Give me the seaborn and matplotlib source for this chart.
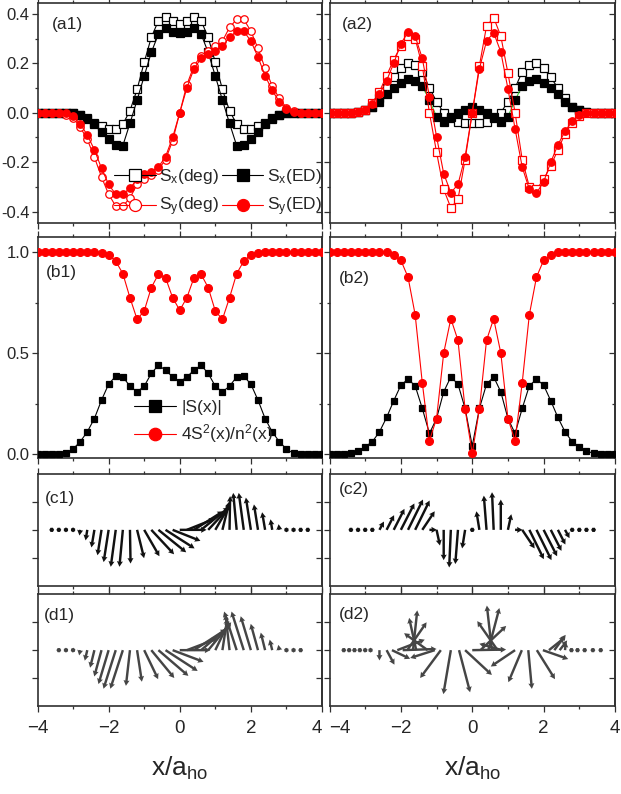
import matplotlib
matplotlib.use("Agg")
import matplotlib.pyplot as plt
import seaborn as sns
import numpy as np

sns.set_theme(style="ticks")
plt.rcParams["font.family"] = ["Liberation Sans", "DejaVu Sans"]
plt.rcParams["mathtext.fontset"] = "custom"
plt.rcParams["mathtext.rm"] = "Liberation Sans"
plt.rcParams["mathtext.it"] = "Liberation Sans:italic"

# ---- data ---------------------------------------------------------------
x_pts = [-4.0, -3.8, -3.6, -3.4, -3.2, -3.0, -2.8, -2.6, -2.4, -2.2, -2.0,
         -1.8, -1.6, -1.4, -1.2, -1.0, -0.8, -0.6, -0.4, -0.2, 0.0,
         0.2, 0.4, 0.6, 0.8, 1.0, 1.2, 1.4, 1.6, 1.8, 2.0,
         2.2, 2.4, 2.6, 2.8, 3.0, 3.2, 3.4, 3.6, 3.8, 4.0]

# (a1)
a1_sx_deg = [0, 0, 0, 0, 0, 0, -0.01, -0.023, -0.04, -0.054, -0.067, -0.067, -0.046, 0.008, 0.094,
             0.204, 0.305, 0.372, 0.389, 0.372, 0.359, 0.372, 0.389, 0.372, 0.305, 0.204, 0.094,
             0.008, -0.046, -0.067, -0.067, -0.054, -0.04, -0.023, -0.01, 0, 0, 0, 0, 0, 0]
a1_sx_ed = [0, 0, 0, 0, 0, -0.003, -0.011, -0.027, -0.046, -0.077, -0.108, -0.13, -0.133, -0.043,
            0.051, 0.148, 0.244, 0.318, 0.341, 0.328, 0.324, 0.328, 0.341, 0.318, 0.244, 0.148,
            0.051, -0.043, -0.133, -0.13, -0.108, -0.077, -0.046, -0.027, -0.011, -0.003, 0, 0, 0, 0, 0]
a1_sy_deg = [0, 0, 0, 0, -0.008, -0.02, -0.058, -0.108, -0.18, -0.26, -0.33, -0.378, -0.378, -0.345,
             -0.29, -0.27, -0.25, -0.23, -0.19, -0.113, 0, 0.113, 0.19, 0.23, 0.25, 0.27, 0.29,
             0.345, 0.378, 0.378, 0.33, 0.26, 0.18, 0.108, 0.058, 0.02, 0.008, 0, 0, 0, 0]
a1_sy_ed = [0, 0, 0, 0, -0.003, -0.015, -0.045, -0.09, -0.15, -0.225, -0.29, -0.33, -0.33, -0.305,
            -0.27, -0.248, -0.238, -0.22, -0.178, -0.1, 0, 0.1, 0.178, 0.22, 0.238, 0.248, 0.27,
            0.305, 0.33, 0.33, 0.29, 0.225, 0.15, 0.09, 0.045, 0.015, 0.003, 0, 0, 0, 0]

# (a2)
a2_sx_deg = [0, 0, 0, 0, 0.003, 0.01, 0.025, 0.06, 0.1, 0.143, 0.18, 0.2, 0.193, 0.166, 0.1, 0.045,
             0.0, -0.022, -0.036, -0.04, -0.04, -0.04, -0.036, -0.022, 0.0, 0.045, 0.1, 0.166,
             0.193, 0.2, 0.18, 0.143, 0.1, 0.06, 0.025, 0.01, 0.003, 0, 0, 0, 0]
a2_sx_ed = [0, 0, 0, 0, 0.003, 0.01, 0.025, 0.045, 0.077, 0.1, 0.122, 0.135, 0.13, 0.108, 0.051,
            -0.016, -0.036, -0.019, -0.003, 0.013, 0.022, 0.013, -0.003, -0.019, -0.036, -0.016,
            0.051, 0.108, 0.13, 0.135, 0.122, 0.1, 0.077, 0.045, 0.025, 0.01, 0.003, 0, 0, 0, 0]
a2_sy_deg = [0, 0, 0, 0, 0.003, 0.012, 0.04, 0.085, 0.15, 0.215, 0.27, 0.31, 0.3, 0.19, 0.0, -0.16,
             -0.31, -0.385, -0.35, -0.19, 0, 0.19, 0.35, 0.385, 0.31, 0.16, 0.0, -0.19, -0.3,
             -0.31, -0.27, -0.215, -0.15, -0.085, -0.04, -0.012, -0.003, 0, 0, 0, 0]
a2_sy_ed = [0, 0, 0, 0, 0.003, 0.01, 0.035, 0.075, 0.13, 0.2, 0.28, 0.325, 0.31, 0.22, 0.065,
            -0.097, -0.246, -0.324, -0.29, -0.178, 0, 0.178, 0.29, 0.324, 0.246, 0.097, -0.065,
            -0.22, -0.31, -0.325, -0.28, -0.2, -0.13, -0.075, -0.035, -0.01, -0.003, 0, 0, 0, 0]

# (b1), (b2)
b1_abs = [0, 0, 0, 0, 0.003, 0.025, 0.061, 0.11, 0.176, 0.267, 0.346, 0.386, 0.382, 0.336, 0.308,
          0.336, 0.399, 0.44, 0.415, 0.382, 0.357, 0.382, 0.415, 0.44, 0.399, 0.336, 0.308, 0.336,
          0.382, 0.386, 0.346, 0.267, 0.176, 0.11, 0.061, 0.025, 0.003, 0, 0, 0, 0]
b1_ratio = [1, 1, 1, 1, 1, 1, 1, 1, 1, 0.997, 0.987, 0.955, 0.893, 0.774, 0.667, 0.708, 0.824,
            0.89, 0.873, 0.774, 0.712, 0.774, 0.873, 0.89, 0.824, 0.708, 0.667, 0.774, 0.893,
            0.955, 0.987, 0.997, 1, 1, 1, 1, 1, 1, 1, 1, 1]
b2_abs = [0, 0, 0, 0.003, 0.016, 0.036, 0.061, 0.11, 0.181, 0.264, 0.341, 0.371, 0.338, 0.226,
          0.102, 0.176, 0.308, 0.382, 0.346, 0.226, 0.04, 0.226, 0.346, 0.382, 0.308, 0.176,
          0.102, 0.226, 0.338, 0.371, 0.341, 0.264, 0.181, 0.11, 0.061, 0.036, 0.016, 0.003, 0, 0, 0]
b2_ratio = [1, 1, 1, 1, 1, 1, 1, 1, 1, 0.983, 0.959, 0.876, 0.69, 0.353, 0.066, 0.176, 0.5, 0.67,
            0.563, 0.222, 0.003, 0.222, 0.563, 0.67, 0.5, 0.176, 0.066, 0.353, 0.69, 0.876,
            0.959, 0.983, 1, 1, 1, 1, 1, 1, 1, 1, 1]

# (d2) vectors (tail position and spin components)
d2_x = [-3.6, -3.45, -3.3, -3.15, -3.0, -2.85, -2.6, -2.4, -2.25, -2.1, -1.95, -1.82, -1.66,
        -1.57, -1.25, -1.05, -0.88, -0.6, -0.37, -0.2, 0.0, 0.23, 0.45, 0.55, 0.71, 0.83, 1.2,
        1.39, 1.57, 1.81, 1.98, 2.15, 2.3, 2.45, 2.6, 2.78, 2.95, 3.15, 3.38, 3.6]
d2_sx = [0, 0, 0, 0, 0.01, 0, 0, 0.083, 0.192, 0.29, 0.358, 0.204, 0.045, -0.075, -0.249, -0.26,
         -0.219, -0.079, 0.117, 0.283, 0.358, 0.272, 0.117, -0.053, -0.215, -0.238, -0.257,
         -0.143, 0.038, 0.192, 0.268, 0.17, 0.12, 0.079, 0.008, 0.01, 0, 0, 0, 0]
d2_sy = [0, 0, 0, 0, -0.007, -0.036, -0.088, -0.124, -0.074, 0.09, 0.01, 0.238, 0.34, 0.276,
         0.145, -0.067, -0.238, -0.376, -0.36, -0.212, 0.005, 0.207, 0.36, 0.381, 0.248, 0.055,
         -0.14, -0.274, -0.331, -0.248, -0.076, 0.11, 0.131, 0.083, 0.071, 0.012, 0, 0, 0, 0]

# ---- layout (pixel boxes) -------------------------------------------------
W, H = 621, 794
rows = {"a": (2.5, 222.7), "b": (236.7, 458.3), "c": (474.0, 585.7), "d": (594.3, 706.0)}
cols = [(37.5, 322.0), (329.5, 615.0)]

fig = plt.figure(figsize=(W / 100, H / 100), dpi=100)
axes = {}
for r, (top, bot) in rows.items():
    for i, (lft, rgt) in enumerate(cols):
        axes[r + str(i + 1)] = fig.add_axes([lft / W, 1 - bot / H, (rgt - lft) / W, (bot - top) / H])

FRAME = "#303030"


def style(ax, ymaj, ymin, ylabels, xlabels):
    ax.set_xlim(-4, 4)
    ax.set_xticks([-4, -2, 0, 2, 4])
    ax.set_xticks([-3, -1, 1, 3], minor=True)
    ax.set_yticks(ymaj)
    ax.set_yticks(ymin, minor=True)
    for sp in ax.spines.values():
        sp.set_visible(True)
        sp.set_color(FRAME)
        sp.set_linewidth(1.2)
    ax.tick_params(which="both", direction="out", color=FRAME, width=0.9, top=True,
                   labelleft=ylabels, labelbottom=xlabels, labelsize=12, pad=1.5)
    ax.tick_params(which="major", length=4)
    ax.tick_params(which="minor", length=2.5)
    ax.tick_params(axis="x", labelsize=13.5, pad=6)
    if ylabels:
        ax.set_yticklabels([f"{v:.1f}" for v in ymaj])
    sec = ax.secondary_yaxis("right")
    sec.set_yticks(ymaj)
    sec.set_yticks(ymin, minor=True)
    sec.tick_params(which="both", direction="in", color=FRAME, width=0.9, labelright=False)
    sec.tick_params(which="major", length=4)
    sec.tick_params(which="minor", length=2.5)
    sec.spines["right"].set_color(FRAME)
    sec.spines["right"].set_linewidth(1.2)


def curve(ax, y, marker, edge, face, line=None, label=None, ms=5.4):
    sns.lineplot(x=x_pts, y=y, ax=ax, color=line or edge, lw=0.8, marker=marker, ms=ms,
                 mfc=face, mec=edge, mew=0.9, label=label, legend=False, zorder=3)


def tag(ax, s, x, y):
    ax.text(x, y, s, transform=ax.transAxes, fontsize=12.5, ha="left", va="center")


# ---- (a) spin components ----------------------------------------------------
ax = axes["a1"]
curve(ax, a1_sx_deg, "s", "black", "white", label=r"S$_\mathrm{x}$(deg)")
curve(ax, a1_sx_ed, "s", "black", "black", label=r"S$_\mathrm{x}$(ED)")
curve(ax, a1_sy_deg, "o", "red", "white", label=r"S$_\mathrm{y}$(deg)")
curve(ax, a1_sy_ed, "o", "red", "red", label=r"S$_\mathrm{y}$(ED)")
h, l = ax.get_legend_handles_labels()
order = [0, 2, 1, 3]
ax.legend([h[i] for i in order], [l[i] for i in order], ncol=2, loc="lower right",
          bbox_to_anchor=(1.03, -0.02), frameon=False, fontsize=12.5, markerscale=1.6,
          handlelength=2.4, handletextpad=0.2, columnspacing=0.15, labelspacing=0.55,
          borderaxespad=0.1)
ax = axes["a2"]
curve(ax, a2_sx_deg, "s", "black", "white")
curve(ax, a2_sx_ed, "s", "black", "black", line="#33cc33")
curve(ax, a2_sy_deg, "s", "red", "white")
curve(ax, a2_sy_ed, "o", "red", "red")
for k in ("a1", "a2"):
    axes[k].set_ylim(-0.445, 0.446)
    style(axes[k], [-0.4, -0.2, 0.0, 0.2, 0.4], [-0.3, -0.1, 0.1, 0.3], k == "a1", False)

# ---- (b) |S| and ratio -----------------------------------------------------
ax = axes["b1"]
curve(ax, b1_abs, "s", "black", "black", label=r"|S(x)|", ms=5)
curve(ax, b1_ratio, "o", "red", "red", label=r"4S$^2$(x)/n$^2$(x)", ms=5.6)
h, l = ax.get_legend_handles_labels()
ax.legend(h, l, loc="lower left", bbox_to_anchor=(0.31, 0.02), frameon=False, fontsize=12.5,
          markerscale=1.6, handlelength=2.4, handletextpad=0.3, labelspacing=0.4,
          borderaxespad=0.1)
ax = axes["b2"]
curve(ax, b2_abs, "s", "black", "black", ms=5)
curve(ax, b2_ratio, "o", "red", "red", ms=5.6)
for k in ("b1", "b2"):
    axes[k].set_ylim(-0.021, 1.076)
    style(axes[k], [0.0, 0.5, 1.0], [0.25, 0.75], k == "b1", False)

# ---- (c), (d) spin vectors --------------------------------------------------
qkw = dict(angles="xy", scale_units="xy", pivot="tail", width=0.0085, headwidth=2.5,
           headlength=2.3, headaxislength=2.1, minlength=2.0, zorder=3)
xc1 = x_pts[2:-2]
axes["c1"].quiver(xc1, np.zeros(len(xc1)), a1_sx_deg[2:-2], a1_sy_deg[2:-2],
                  scale=1 / 2.1, color="#111111", **qkw)
xc2 = x_pts[3:-3]
axes["c2"].quiver(xc2, np.zeros(len(xc2)), a2_sx_deg[3:-3], a2_sy_deg[3:-3],
                  scale=1 / 2.1, color="#111111", **qkw)
axes["d1"].quiver(xc2, np.zeros(len(xc2)), a1_sx_ed[3:-3], a1_sy_ed[3:-3],
                  scale=1 / 2.65, color="#454545", **qkw)
axes["d2"].quiver(d2_x, np.zeros(len(d2_x)), d2_sx, d2_sy,
                  scale=1 / 2.65, color="#454545", **qkw)
for k in ("c1", "c2"):
    axes[k].set_ylim(-1.2, 1.2)
    style(axes[k], [-0.6, 0.0, 0.6], [], False, False)
for k in ("d1", "d2"):
    axes[k].set_ylim(-1.265, 1.265)
    style(axes[k], [-0.632, 0.0, 0.632], [], False, True)
    axes[k].set_xlabel(r"x/a$_\mathrm{ho}$", fontsize=19, labelpad=13)

# the two touching end labels ("4" and "-4") share the gap between the columns
fig.canvas.draw()
axes["d1"].get_xticklabels()[-1].set_horizontalalignment("right")
axes["d2"].get_xticklabels()[0].set_horizontalalignment("left")

tag(axes["a1"], "(a1)", 0.05, 0.9)
tag(axes["a2"], "(a2)", 0.045, 0.9)
tag(axes["b1"], "(b1)", 0.03, 0.84)
tag(axes["b2"], "(b2)", 0.034, 0.81)
tag(axes["c1"], "(c1)", 0.026, 0.78)
tag(axes["c2"], "(c2)", 0.034, 0.86)
tag(axes["d1"], "(d1)", 0.024, 0.81)
tag(axes["d2"], "(d2)", 0.034, 0.815)

fig.savefig("out.png", dpi=100)
